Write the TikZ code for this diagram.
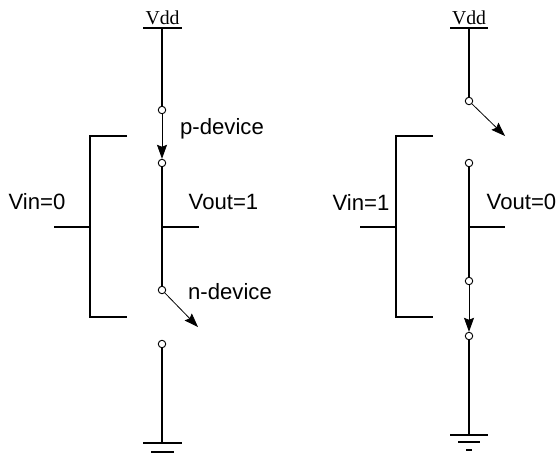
\documentclass[tikz,border=0pt]{standalone}
\usepackage{fontspec}
\setmainfont{Liberation Sans}
\newfontfamily\vddfont{Liberation Serif}
\usetikzlibrary{arrows.meta}
\tikzset{
	wire/.style={line width=1.15pt},
	switcharm/.style={line width=0.6pt,-{Stealth[length=10.5pt,width=7.5pt,inset=1.5pt]}},
	contact/.style={circle,draw,fill=white,line width=0.7pt,inner sep=0pt,minimum size=5.6pt},
	label/.style={font=\fontsize{16.6}{19}\selectfont,inner sep=0pt},
	vddlabel/.style={font=\vddfont\fontsize{14.8}{17}\selectfont,inner sep=0pt}
}
\begin{document}
\begin{tikzpicture}[x=0.75pt,y=0.75pt,yscale=-1,xscale=1]
	\useasboundingbox (0,0) rectangle (559,458);
	
	% Left inverter points
	\coordinate (railA1) at (143,28);
	\coordinate (railA2) at (182,28);
	\coordinate (railA) at (162,28);
	\coordinate (gateA1) at (127,136);
	\coordinate (gateA2) at (90,136);
	\coordinate (gateA3) at (90,317);
	\coordinate (gateA4) at (127,317);
	\coordinate (inA1) at (54,227);
	\coordinate (inA2) at (90,227);
	\coordinate (outA1) at (162,227);
	\coordinate (outA2) at (199,227);
	\coordinate (openA) at (198,327);
	\coordinate (gndA) at (162,443);
	\coordinate (gndA1) at (143,443);
	\coordinate (gndA2) at (182,443);
	\coordinate (gndA3) at (151,452);
	\coordinate (gndA4) at (174,452);
	
	% Right inverter points
	\coordinate (railB1) at (450,28);
	\coordinate (railB2) at (488,28);
	\coordinate (railB) at (469,28);
	\coordinate (gateB1) at (433,136);
	\coordinate (gateB2) at (396,136);
	\coordinate (gateB3) at (396,317);
	\coordinate (gateB4) at (433,317);
	\coordinate (inB1) at (360,227);
	\coordinate (inB2) at (396,227);
	\coordinate (outB1) at (469,227);
	\coordinate (outB2) at (505,227);
	\coordinate (openB) at (505,136);
	\coordinate (gndB) at (469,435);
	\coordinate (gndB1) at (450,435);
	\coordinate (gndB2) at (488,435);
	\coordinate (gndB3) at (458,442);
	\coordinate (gndB4) at (480,442);
	\coordinate (gndB5) at (466,450);
	\coordinate (gndB6) at (472,450);
	
	% Contacts
	\node [contact] (pA1) at (162,110) {};
	\node [contact] (pA2) at (162,163) {};
	\node [contact] (nA1) at (162,290) {};
	\node [contact] (nA2) at (162,344) {};
	\node [contact] (pB1) at (469,101) {};
	\node [contact] (pB2) at (469,163) {};
	\node [contact] (nB1) at (469,281) {};
	\node [contact] (nB2) at (469,336) {};
	
	%Straight Lines left
	\draw [wire] (railA1) -- (railA2);
	\draw [wire] (railA) -- (pA1);
	\draw [switcharm] (pA1) -- (pA2);
	\draw [wire] (pA2) -- (nA1);
	\draw [switcharm] (nA1) -- (openA);
	\draw [wire] (nA2) -- (gndA);
	\draw [wire] (gndA1) -- (gndA2);
	\draw [wire] (gndA3) -- (gndA4);
	\draw [wire] (gateA1) -- (gateA2) -- (gateA3) -- (gateA4);
	\draw [wire] (inA1) -- (inA2);
	\draw [wire] (outA1) -- (outA2);
	
	%Straight Lines right
	\draw [wire] (railB1) -- (railB2);
	\draw [wire] (railB) -- (pB1);
	\draw [switcharm] (pB1) -- (openB);
	\draw [wire] (pB2) -- (nB1);
	\draw [switcharm] (nB1) -- (nB2);
	\draw [wire] (nB2) -- (gndB);
	\draw [wire] (gndB1) -- (gndB2);
	\draw [wire] (gndB3) -- (gndB4);
	\draw [wire] (gndB5) -- (gndB6);
	\draw [wire] (gateB1) -- (gateB2) -- (gateB3) -- (gateB4);
	\draw [wire] (inB1) -- (inB2);
	\draw [wire] (outB1) -- (outB2);
	
	% Text Node
	\draw (162.5,18) node [vddlabel] (vddA) {Vdd};
	% Text Node
	\draw (222,129) node [label] (pdev) {p-device};
	% Text Node
	\draw (37,202) node [label] (vinA) {Vin=0};
	% Text Node
	\draw (223.5,202) node [label] (voutA) {Vout=1};
	% Text Node
	\draw (230,292) node [label] (ndev) {n-device};
	% Text Node
	\draw (469,18) node [vddlabel] (vddB) {Vdd};
	% Text Node
	\draw (361,202) node [label] (vinB) {Vin=1};
	% Text Node
	\draw (521.5,202) node [label] (voutB) {Vout=0};
\end{tikzpicture}
\end{document}
